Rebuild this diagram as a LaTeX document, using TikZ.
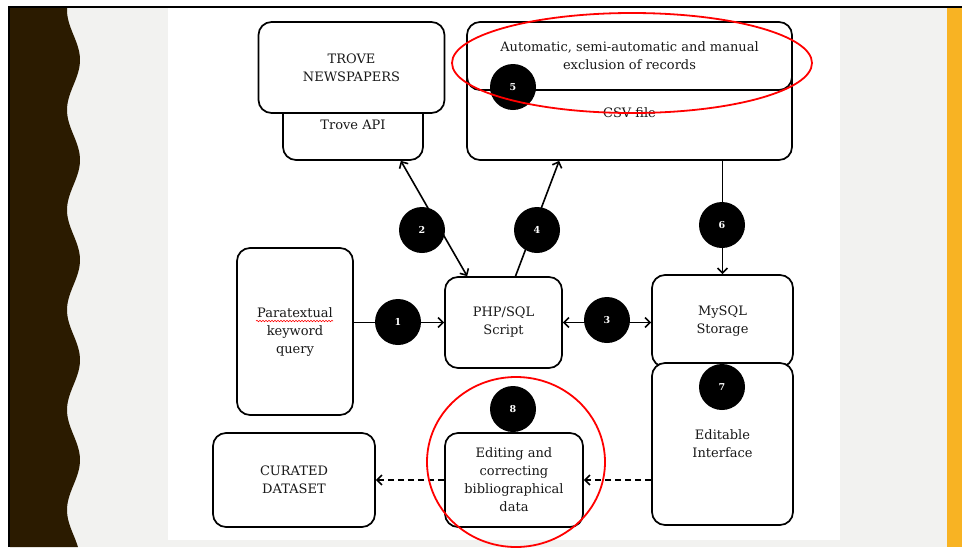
\documentclass[tikz,border=0pt]{standalone}
\usepackage{fontspec}
\setmainfont{DejaVu Serif}
\usetikzlibrary{arrows.meta,decorations.pathmorphing}
\definecolor{slidebrown}{HTML}{2B1B00}
\definecolor{slidegray}{HTML}{F2F2F0}
\definecolor{slideorange}{HTML}{F8B323}
\tikzset{
  box/.style={draw, line width=1.7pt, rounded corners=13pt, fill=white, align=center,
    text=black!90, inner sep=0pt, font=\fontsize{13}{18}\selectfont},
  num/.style={circle, fill=black, text=white, minimum size=46pt, inner sep=0pt,
    font=\fontsize{9.5}{9.5}\selectfont\bfseries},
  link/.style={line width=1.6pt},
  redring/.style={red, line width=1.8pt}
}
\begin{document}
\begin{tikzpicture}[x=1pt,y=-1pt,>={Straight Barb[length=5pt,width=10pt]}]
  \useasboundingbox (0,0) rectangle (962,547);
  %Folie
  \fill[white] (0,0) rectangle (962,547);
  \fill[slidegray] (10,8) rectangle (962,547);
  \fill[slidebrown] (10,8) -- plot[domain=8:547,samples=160] ({73.5-6.5*cos(3.6*(\x-10))},\x) -- (10,547) -- cycle;
  \fill[white] (168,8) rectangle (840,540);
  \fill[slideorange] (947,8) rectangle (962,547);
  \draw[line width=2.5pt] (9,547) -- (9,7) -- (962,7);
  %Oben
  \node[box, minimum width=140pt, minimum height=70pt] (api) at (353,125) {Trove API};
  \node[box, minimum width=186pt, minimum height=91pt] (trove) at (351.5,67.5) {TROVE\\NEWSPAPERS};
  \node[box, minimum width=325pt, minimum height=94pt] (csv) at (629.5,113) {CSV file};
  \node[box, minimum width=325pt, minimum height=68pt] (excl) at (629.5,56) {Automatic, semi-automatic and manual\\exclusion of records};
  %Mitte
  \node[box, minimum width=116pt, minimum height=167pt] (para) at (295,331.5) {Paratextual\\keyword\\query};
  \node[box, minimum width=117pt, minimum height=91pt] (php) at (503.5,322.5) {PHP/SQL\\Script};
  \node[box, minimum width=141pt, minimum height=92pt] (mysql) at (722.5,321) {MySQL\\Storage};
  \node[box, minimum width=141pt, minimum height=162pt] (edit) at (722.5,444) {Editable\\Interface};
  %Unten
  \node[box, minimum width=138pt, minimum height=94pt] (correct) at (514,480) {Editing and\\correcting\\bibliographical\\data};
  \node[box, minimum width=162pt, minimum height=94pt] (curated) at (294,480) {CURATED\\DATASET};
  \draw[red, line width=0.6pt, decorate, decoration={snake, amplitude=0.7pt, segment length=3pt}] (256,321) -- (333,321);
  %Verbindungen
  \draw[link,<->] ([xshift=-23pt]api.south east) -- ([xshift=23pt]php.north west);
  \draw[link,->] ([xshift=12pt]php.north) -- ([xshift=93pt]csv.south west);
  \draw[link,->] (csv.south -| mysql.north) -- (mysql.north);
  \draw[link,->] (php.west -| para.east) -- (php.west);
  \draw[link,<->] (php.east) -- (php.east -| mysql.west);
  \draw[link,->,dash pattern=on 6pt off 4pt] (correct.east -| edit.west) -- (correct.east);
  \draw[link,->,dash pattern=on 6pt off 4pt] (correct.west) -- (curated.east);
  %Nummern
  \node[num] (n1) at (398,322) {1};
  \node[num] (n2) at (422,230) {2};
  \node[num] (n3) at (607,320) {3};
  \node[num] (n4) at (537,230) {4};
  \node[num] (n5) at (513,87) {5};
  \node[num] (n6) at (722,225) {6};
  \node[num] (n7) at (722,387) {7};
  \node[num] (n8) at (513,409) {8};
  %Markierungen
  \draw[redring] (632,63) ellipse [x radius=180pt, y radius=50pt];
  \draw[redring] (516,462) ellipse [x radius=89pt, y radius=85pt];
\end{tikzpicture}
\end{document}
